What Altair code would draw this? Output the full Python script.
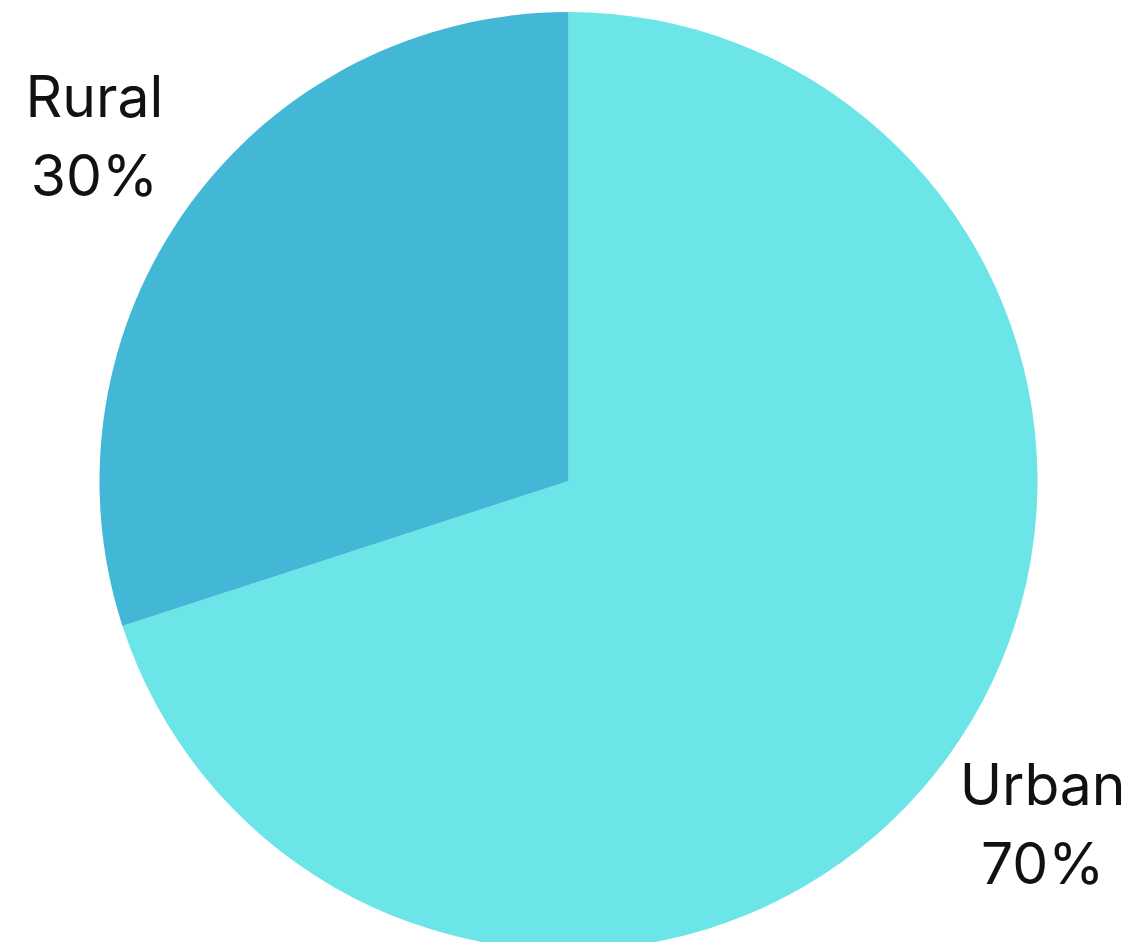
import altair as alt
import pandas as pd

categories = ["Urban", "Rural"]
shares = [70, 30]
colors = ["#6be5e8", "#42b7d6"]

df = pd.DataFrame({"category": categories, "share": shares, "order": [0, 1]})

base = alt.Chart(df).encode(
    theta=alt.Theta("share:Q", stack=True),
    order=alt.Order("order:Q"),
)

pie = base.mark_arc(outerRadius=469, stroke=None).encode(
    color=alt.Color("category:N", scale=alt.Scale(domain=categories, range=colors), legend=None),
    x=alt.value(560.5),
    y=alt.value(473),
)

labels = base.transform_calculate(
    label="datum.category + '\\n' + datum.share + '%'"
).mark_text(
    radius=586, font="Inter", fontSize=57, color="#111111", dy=-37,
    lineBreak="\n", lineHeight=79, align="center", baseline="middle",
).encode(
    text="label:N",
    x=alt.value(560.5),
    y=alt.value(473),
)

chart = (pie + labels).properties(
    width=1118, height=934, autosize=alt.AutoSizeParams(type="none"), padding=0
).configure_view(stroke=None)

chart.save("out.html", embed_options={"renderer": "svg", "actions": False})
